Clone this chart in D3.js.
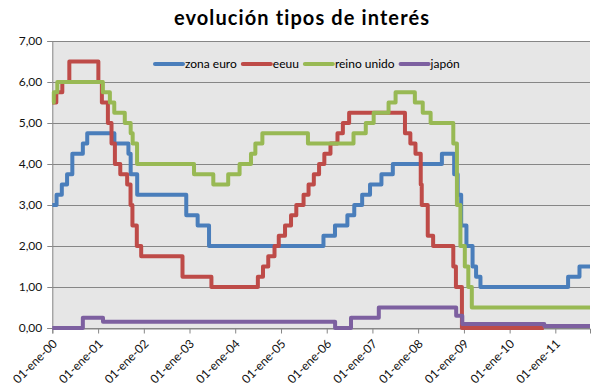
<!DOCTYPE html>
<html>
<head>
<meta charset="utf-8">
<script src="https://cdn.jsdelivr.net/npm/d3@7"></script>
<style>
    body { margin: 0; background: #fff; }
    svg { display: block; font-family: Lato, "Liberation Sans", sans-serif; }
</style>
</head>
<body>
<svg id="chart" width="610" height="392"></svg>
<script>
// tipos oficiales, fecha del cambio -> nuevo tipo (%)
const zonaEuro = [
    ["2000-01-01", 3.00], ["2000-02-04", 3.25], ["2000-03-17", 3.50], ["2000-04-28", 3.75],
    ["2000-06-09", 4.25], ["2000-09-01", 4.50], ["2000-10-06", 4.75], ["2001-05-11", 4.50],
    ["2001-08-31", 4.25], ["2001-09-18", 3.75], ["2001-11-09", 3.25], ["2002-12-06", 2.75],
    ["2003-03-07", 2.50], ["2003-06-06", 2.00], ["2005-12-06", 2.25], ["2006-03-08", 2.50],
    ["2006-06-15", 2.75], ["2006-08-09", 3.00], ["2006-10-11", 3.25], ["2006-12-13", 3.50],
    ["2007-03-14", 3.75], ["2007-06-13", 4.00], ["2008-07-09", 4.25], ["2008-10-15", 3.75],
    ["2008-11-12", 3.25], ["2008-12-10", 2.50], ["2009-01-21", 2.00], ["2009-03-11", 1.50],
    ["2009-04-08", 1.25], ["2009-05-13", 1.00], ["2011-04-13", 1.25], ["2011-07-13", 1.50],
    ["2011-10-05", 1.50]
];
const eeuu = [
    ["2000-01-01", 5.50], ["2000-02-02", 5.75], ["2000-03-21", 6.00], ["2000-05-16", 6.50],
    ["2001-01-03", 6.00], ["2001-01-31", 5.50], ["2001-03-20", 5.00], ["2001-04-18", 4.50],
    ["2001-05-15", 4.00], ["2001-06-27", 3.75], ["2001-08-21", 3.50], ["2001-09-17", 3.00],
    ["2001-10-02", 2.50], ["2001-11-06", 2.00], ["2001-12-11", 1.75], ["2002-11-06", 1.25],
    ["2003-06-25", 1.00], ["2004-06-30", 1.25], ["2004-08-10", 1.50], ["2004-09-21", 1.75],
    ["2004-11-10", 2.00], ["2004-12-14", 2.25], ["2005-02-02", 2.50], ["2005-03-22", 2.75],
    ["2005-05-03", 3.00], ["2005-06-30", 3.25], ["2005-08-09", 3.50], ["2005-09-20", 3.75],
    ["2005-11-01", 4.00], ["2005-12-13", 4.25], ["2006-01-31", 4.50], ["2006-03-28", 4.75],
    ["2006-05-10", 5.00], ["2006-06-29", 5.25], ["2007-09-18", 4.75], ["2007-10-31", 4.50],
    ["2007-12-11", 4.25], ["2008-01-22", 3.50], ["2008-01-30", 3.00], ["2008-03-18", 2.25],
    ["2008-04-30", 2.00], ["2008-10-08", 1.50], ["2008-10-29", 1.00], ["2008-12-16", 0.00],
    ["2010-10-01", 0.00]
];
const reinoUnido = [
    ["2000-01-01", 5.50], ["2000-01-13", 5.75], ["2000-02-10", 6.00], ["2001-02-08", 5.75],
    ["2001-04-05", 5.50], ["2001-05-10", 5.25], ["2001-08-02", 5.00], ["2001-09-18", 4.75],
    ["2001-10-04", 4.50], ["2001-11-08", 4.00], ["2003-02-06", 3.75], ["2003-07-10", 3.50],
    ["2003-11-06", 3.75], ["2004-02-05", 4.00], ["2004-05-06", 4.25], ["2004-06-10", 4.50],
    ["2004-08-05", 4.75], ["2005-08-04", 4.50], ["2006-08-03", 4.75], ["2006-11-09", 5.00],
    ["2007-01-11", 5.25], ["2007-05-10", 5.50], ["2007-07-05", 5.75], ["2007-12-06", 5.50],
    ["2008-02-07", 5.25], ["2008-04-10", 5.00], ["2008-10-08", 4.50], ["2008-11-06", 3.00],
    ["2008-12-04", 2.00], ["2009-01-08", 1.50], ["2009-02-05", 1.00], ["2009-03-05", 0.50],
    ["2011-10-05", 0.50]
];
const japon = [
    ["2000-01-01", 0.00], ["2000-09-01", 0.25], ["2001-02-09", 0.15], ["2006-03-09", 0.00],
    ["2006-07-14", 0.25], ["2007-02-21", 0.50], ["2008-10-31", 0.30], ["2008-12-19", 0.10],
    ["2010-10-05", 0.05], ["2011-10-05", 0.05]
];

const seriesNames = ["zona euro", "eeuu", "reino unido", "japón"];
const seriesColors = ["#4a7ebb", "#be4b48", "#98b954", "#7d60a0"];
const seriesData = [zonaEuro, eeuu, reinoUnido, japon];

const yearTicks = ["00", "01", "02", "03", "04", "05", "06", "07", "08", "09", "10", "11"];
const yTicks = [0, 1, 2, 3, 4, 5, 6, 7];

const parseDate = d3.timeParse("%Y-%m-%d");

const svg = d3.select("#chart");
const plotLeft = 52.3, plotRight = 590, plotTop = 41, plotBottom = 328;

const x = d3.scaleTime()
    .domain([parseDate("2000-01-01"), parseDate("2011-10-05")])
    .range([plotLeft, plotRight]);
const y = d3.scaleLinear().domain([0, 7]).range([plotBottom, plotTop]);

const es = d3.formatLocale({ decimal: ",", thousands: ".", grouping: [3], currency: ["", " €"] });
const fmt = es.format(".2f");

// plot area
svg.append("rect")
    .attr("x", plotLeft).attr("y", plotTop)
    .attr("width", plotRight - plotLeft).attr("height", plotBottom - plotTop)
    .attr("fill", "#e6e6e6");

// title
svg.append("text")
    .attr("x", 302).attr("y", 25)
    .attr("text-anchor", "middle")
    .attr("font-size", 20).attr("font-weight", "bold")
    .attr("letter-spacing", 1.1)
    .attr("fill", "#000")
    .text("evolución tipos de interés");

// y axis + grid
const yAxis = d3.axisLeft(y).tickValues(yTicks).tickSize(5).tickFormat(fmt);
const gy = svg.append("g").attr("transform", `translate(${plotLeft},0)`).call(yAxis);
gy.select(".domain").attr("stroke", "#868686");
gy.selectAll(".tick line").attr("stroke", "#868686");
gy.selectAll(".tick text").attr("font-size", 12).attr("fill", "#111")
    .attr("font-family", "Lato, sans-serif").attr("x", -10);

svg.append("g").selectAll("line")
    .data(yTicks)
    .join("line")
    .attr("x1", plotLeft).attr("x2", plotRight)
    .attr("y1", d => Math.round(y(d)) + 0.5).attr("y2", d => Math.round(y(d)) + 0.5)
    .attr("stroke", "#868686");

// x axis
const xTickDates = yearTicks.map(t => parseDate("20" + t + "-01-01"));
const xAxis = d3.axisBottom(x).tickValues(xTickDates).tickSize(5)
    .tickFormat(d => "01-ene-" + d3.timeFormat("%y")(d));
const gx = svg.append("g").attr("transform", `translate(0,${plotBottom + 0.5})`).call(xAxis);
gx.select(".domain").attr("stroke", "#868686");
gx.selectAll(".tick line").attr("stroke", "#868686");
gx.selectAll(".tick text")
    .attr("font-size", 12).attr("fill", "#111").attr("font-family", "Lato, sans-serif")
    .attr("text-anchor", "end")
    .attr("dy", 0).attr("y", 0)
    .attr("transform", "translate(5,16) rotate(-45)");

// series
const line = d3.line()
    .x(d => x(parseDate(d[0])))
    .y(d => y(d[1]))
    .curve(d3.curveStepAfter);

svg.append("g").selectAll("path")
    .data(seriesData)
    .join("path")
    .attr("d", d => line(d))
    .attr("fill", "none")
    .attr("stroke", (d, i) => seriesColors[i])
    .attr("stroke-width", 4)
    .attr("stroke-linejoin", "round");

// legend
let lx = 155;
const legend = svg.append("g");
seriesNames.forEach((name, i) => {
    legend.append("line")
        .attr("x1", lx).attr("x2", lx + 28)
        .attr("y1", 64).attr("y2", 64)
        .attr("stroke", seriesColors[i]).attr("stroke-width", 4)
        .attr("stroke-linecap", "round");
    const t = legend.append("text")
        .attr("x", lx + 30).attr("y", 68)
        .attr("font-size", 12).attr("fill", "#000")
        .text(name);
    lx += 30 + t.node().getComputedTextLength() + 6;
});
</script>
</body>
</html>
